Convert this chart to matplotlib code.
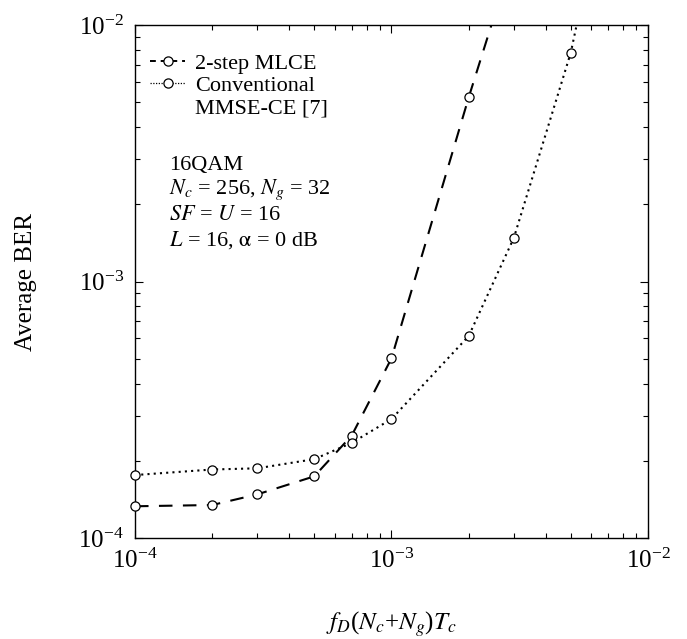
import matplotlib.pyplot as plt
from matplotlib.lines import Line2D
from matplotlib.ticker import LogLocator, NullFormatter, LogFormatterMathtext

plt.rcParams['font.family'] = ['Liberation Serif', 'DejaVu Serif']
plt.rcParams['mathtext.fontset'] = 'stix'

FD = [1e-4, 2e-4, 3e-4, 5e-4, 7e-4, 1e-3, 2e-3, 3e-3, 5e-3, 7e-3]
MLCE_BER = [1.33e-4, 1.345e-4, 1.48e-4, 1.74e-4, 2.51e-4, 5.02e-4, 5.22e-3, 1.9e-2]
MMSE_BER = [1.76e-4, 1.85e-4, 1.87e-4, 2.03e-4, 2.35e-4, 2.91e-4, 6.13e-4, 1.48e-3, 7.8e-3, 3.8e-2]

LABELS = ["2-step MLCE", "Conventional", "MMSE-CE [7]"]
INFO_LINES = [
    "16QAM",
    r"$N_c$ = 256, $N_g$ = 32",
    r"$SF$ = $U$ = 16",
    r"$L$ = 16, $\mathrm{\alpha}$ = 0 dB",
]

XLIM = (1e-4, 1e-2)
YLIM = (1e-4, 1e-2)

fig = plt.figure(figsize=(6.87, 6.39), dpi=100)
ax = fig.add_axes([0.1965, 0.158, 0.7467, 0.8029])

mark = dict(marker='o', markersize=6.6, markerfacecolor='white',
            markeredgecolor='black', markeredgewidth=0.9)

x1 = FD[:len(MLCE_BER)]
ax.plot(x1, MLCE_BER, color='black', lw=1.5, dashes=(6.5, 5))
ax.plot(FD, MMSE_BER, color='black', lw=1.5, dashes=(1, 2))


def in_range(xs, ys):
    pts = [(a, b) for a, b in zip(xs, ys)
           if XLIM[0] <= a <= XLIM[1] and YLIM[0] <= b <= YLIM[1]]
    return [p[0] for p in pts], [p[1] for p in pts]


mx, my = in_range(x1, MLCE_BER)
ax.plot(mx, my, linestyle='none', clip_on=False, zorder=5, **mark)
mx, my = in_range(FD, MMSE_BER)
ax.plot(mx, my, linestyle='none', clip_on=False, zorder=5, **mark)

ax.set_xscale('log')
ax.set_yscale('log')
ax.set_xlim(*XLIM)
ax.set_ylim(*YLIM)

for axis in (ax.xaxis, ax.yaxis):
    axis.set_major_locator(LogLocator(base=10, numticks=10))
    axis.set_minor_locator(LogLocator(base=10, subs=range(2, 10), numticks=10))
    axis.set_minor_formatter(NullFormatter())
    axis.set_major_formatter(LogFormatterMathtext())

ax.tick_params(which='both', direction='in', top=True, right=True,
               width=0.8, labelsize=18, pad=8)
ax.tick_params(which='major', length=6)
ax.tick_params(which='minor', length=3.5)
for sp in ax.spines.values():
    sp.set_linewidth(1.0)

ax.set_ylabel("Average BER", fontsize=18, labelpad=30)
ax.set_xlabel(r"$f_D$($N_c$+$N_g$)$T_c$", fontsize=18, labelpad=26)

handles = [
    Line2D([], [], color='black', lw=1.4, dashes=(3, 2.5), **mark),
    Line2D([], [], color='black', lw=0.9, dashes=(1, 1.2), **mark),
    Line2D([], [], linestyle='none'),
]
ax.legend(handles, LABELS, loc='upper left', bbox_to_anchor=(0.03, 0.945),
          frameon=False, fontsize=16, handlelength=1.55, handletextpad=0.45,
          borderaxespad=0, borderpad=0, labelspacing=0.08)

info_y = [0.726, 0.678, 0.628, 0.580]
for txt, yy in zip(INFO_LINES, info_y):
    ax.text(0.066, yy, txt, transform=ax.transAxes, fontsize=16,
            va='center', ha='left')

fig.savefig("out.png", dpi=100)
